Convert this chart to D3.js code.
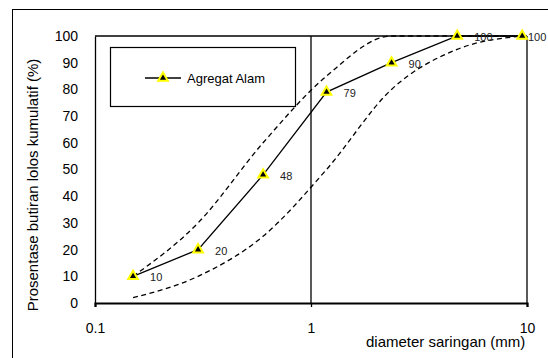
<!DOCTYPE html>
<meta charset="utf-8">
<style>
body { margin: 0; background: #fff; }
text { font-family: "Liberation Sans", Arial, sans-serif; fill: #000; }
.frame { fill: none; stroke: #000; stroke-width: 1px; }
.axis path, .axis line { stroke: #000; }
.axis text { font-size: 14px; }
.envelope { fill: none; stroke: #000; stroke-width: 1.3px; stroke-dasharray: 5,3.5; }
.line { fill: none; stroke: #000; stroke-width: 1.3px; }
.label { font-size: 11px; fill: #222; }
</style>
<body>
<script src="https://cdn.jsdelivr.net/npm/d3@7"></script>
<script>

// sieve sizes (mm) and cumulative passing (%)
var sieves = [0.15, 0.3, 0.6, 1.18, 2.36, 4.75, 9.5];
var agregatAlam = [10, 20, 48, 79, 90, 100, 100];
// grading envelope (upper / lower limit)
var batasAtas = [10, 30, 60, 85, 100, 100, 100];
var batasBawah = [2, 10, 25, 50, 80, 95, 100];
var xTicks = [0.1, 1, 10];
var yTicks = [0, 10, 20, 30, 40, 50, 60, 70, 80, 90, 100];

var W = 548, H = 358;
var margin = {top: 36, right: 21, bottom: 55, left: 95},
    width = W - margin.left - margin.right,
    height = H - margin.top - margin.bottom;

var x = d3.scaleLog().domain([0.1, 10]).range([0, width]);
var y = d3.scaleLinear().domain([0, 100]).range([height, 0]);

var svg = d3.select("body").append("svg")
    .attr("width", W)
    .attr("height", H);

// outer chart border
svg.append("rect").attr("class", "frame")
    .attr("x", 12.5).attr("y", 9.5)
    .attr("width", 600).attr("height", 400);

var g = svg.append("g")
    .attr("transform", "translate(" + margin.left + "," + margin.top + ")");

// top and right border of plot area + gridline at 1 mm
g.append("line").attr("x1", 0).attr("x2", width).attr("y1", 0).attr("y2", 0)
    .attr("stroke", "#000").attr("stroke-width", 1.3);
g.selectAll(".vgrid").data(xTicks.slice(1))
  .enter().append("line")
    .attr("x1", function(d) { return x(d); }).attr("x2", function(d) { return x(d); })
    .attr("y1", 0).attr("y2", height)
    .attr("stroke", "#000").attr("stroke-width", 1.3);

// axes
g.append("g").attr("class", "axis")
    .call(d3.axisLeft(y).tickValues(yTicks).tickSize(0).tickPadding(17))
    .select(".domain").attr("stroke-width", 1.3);

var xa = g.append("g").attr("class", "axis")
    .attr("transform", "translate(0," + height + ")")
    .call(d3.axisBottom(x).tickValues(xTicks).tickSize(4).tickPadding(16)
      .tickFormat(function(d) { return String(d); }));
xa.select(".domain").attr("stroke-width", 2.2);
xa.selectAll("line").attr("stroke-width", 1.3);

// envelope curves
var smooth = d3.line()
    .x(function(d, i) { return x(sieves[i]); })
    .y(function(d) { return y(d); })
    .curve(d3.curveMonotoneX);

g.append("path").attr("class", "envelope").attr("d", smooth(batasAtas));
g.append("path").attr("class", "envelope").attr("d", smooth(batasBawah));

// data line
var straight = d3.line()
    .x(function(d, i) { return x(sieves[i]); })
    .y(function(d) { return y(d); });

g.append("path").attr("class", "line").attr("d", straight(agregatAlam));

var tri = d3.symbol().type(d3.symbolTriangle).size(40);

g.selectAll(".pt").data(agregatAlam)
  .enter().append("path")
    .attr("d", tri)
    .attr("transform", function(d, i) { return "translate(" + x(sieves[i]) + "," + y(d) + ")"; })
    .attr("fill", "#000").attr("stroke", "#ffff00").attr("stroke-width", 2);

// data labels (pushed back inside the chart if they run off the right edge)
g.selectAll(".label").data(agregatAlam)
  .enter().append("text")
    .attr("class", "label")
    .attr("x", function(d, i) { return Math.min(x(sieves[i]) + 17, W - margin.left - 20); })
    .attr("y", function(d) { return y(d) + 5; })
    .text(function(d) { return d; });

// legend
var lg = g.append("g").attr("transform", "translate(15,11)");
lg.append("rect").attr("x", 0.5).attr("y", 0.5).attr("width", 185).attr("height", 59)
    .attr("fill", "#fff").attr("stroke", "#000").attr("stroke-width", 1.2);
lg.append("line").attr("x1", 35).attr("x2", 71).attr("y1", 31).attr("y2", 31)
    .attr("stroke", "#000").attr("stroke-width", 1.3);
lg.append("path").attr("d", tri).attr("transform", "translate(53,31)")
    .attr("fill", "#000").attr("stroke", "#ffff00").attr("stroke-width", 2);
lg.append("text").attr("x", 77).attr("y", 36).attr("font-size", "13px").text("Agregat Alam");

// axis titles
svg.append("text")
    .attr("transform", "translate(38,185) rotate(-90)")
    .attr("text-anchor", "middle")
    .attr("font-size", "15px")
    .text("Prosentase butiran lolos kumulatif (%)");

svg.append("text")
    .attr("x", 366).attr("y", 347)
    .attr("font-size", "15px")
    .text("diameter saringan (mm)");

</script>
</body>
